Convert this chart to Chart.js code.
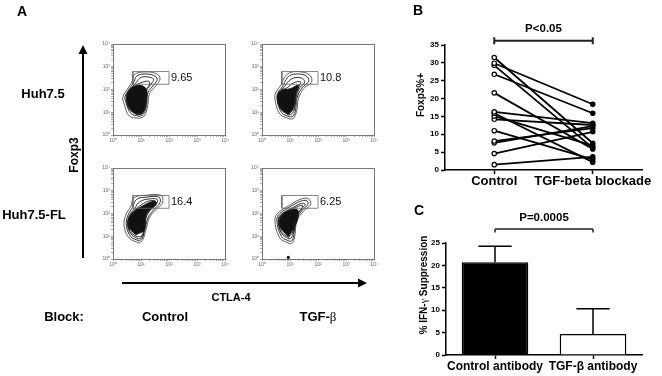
<!DOCTYPE html>
<html>
<head>
<meta charset="utf-8">
<title>Foxp3 / CTLA-4 / TGF-beta</title>
<script src="https://cdn.jsdelivr.net/npm/chart.js@4.4.1/dist/chart.umd.min.js"></script>
<style>
  body { margin: 0; background: #fff; font-family: 'Liberation Sans', Arial, sans-serif; }
  #fig { position: relative; width: 662px; height: 376px; overflow: hidden; }
  #fig canvas { position: absolute; }
  .t { position: absolute; font-weight: bold; white-space: nowrap; line-height: 1; transform: translate(-50%, -50%); }
  .v { transform: translate(-50%, -50%) rotate(-90deg); }
  .g { font-family: 'Liberation Serif', 'DejaVu Serif', serif; font-weight: normal; }
</style>
</head>
<body>
<div id="fig">
  <canvas id="fA1" width="131" height="111" style="left:99px;top:39px"></canvas>
  <canvas id="fA2" width="131" height="111" style="left:248px;top:39px"></canvas>
  <canvas id="fA3" width="131" height="111" style="left:99px;top:163px"></canvas>
  <canvas id="fA4" width="131" height="111" style="left:248px;top:163px"></canvas>
  <canvas id="cB" width="252" height="175" style="left:410px;top:20px"></canvas>
  <canvas id="cC" width="252" height="178" style="left:410px;top:198px"></canvas>

  <svg width="662" height="376" style="position:absolute;left:0;top:0">
    <line x1="83" y1="52" x2="83" y2="258" stroke="#000" stroke-width="2"/>
    <polygon points="78.5,54 87.5,54 83,45" fill="#000"/>
    <line x1="122" y1="283" x2="360" y2="283" stroke="#000" stroke-width="2"/>
    <polygon points="358,278.5 358,287.5 367,283" fill="#000"/>
  </svg>

  <div class="t" style="left:22px;top:11px;font-size:14px">A</div>
  <div class="t" style="left:418px;top:10px;font-size:14px">B</div>
  <div class="t" style="left:419px;top:210px;font-size:14px">C</div>
  <div class="t" style="left:43px;top:93px;font-size:13px">Huh7.5</div>
  <div class="t" style="left:34px;top:214px;font-size:13px">Huh7.5-FL</div>
  <div class="t v" style="left:74px;top:155px;font-size:12px">Foxp3</div>
  <div class="t" style="left:231px;top:297px;font-size:11px">CTLA-4</div>
  <div class="t" style="left:64px;top:316px;font-size:13px">Block:</div>
  <div class="t" style="left:165px;top:316px;font-size:13px">Control</div>
  <div class="t" style="left:318px;top:316px;font-size:13px">TGF-<span class="g">β</span></div>
  <div class="t v" style="left:421px;top:95px;font-size:10px">Foxp3%+</div>
  <div class="t v" style="left:424px;top:285px;font-size:10px">% IFN-<span class="g">γ</span> Suppression</div>
</div>

<script>
Chart.defaults.font.family = "'Liberation Sans', Arial, sans-serif"
Chart.defaults.color = '#000'
Chart.defaults.animation = false
Chart.defaults.plugins.legend.display = false
Chart.defaults.plugins.tooltip.enabled = false

// ---- panel A : contour plots, rings are [log10 CTLA-4, log10 Foxp3]
const flowDecades = [1, 10, 100, 1000, 10000]
const flowTickLabels = ['10\u2070', '10\u00b9', '10\u00b2', '10\u00b3', '10\u2074']
const flowMinor = [1, 2, 3, 4, 5, 6, 7, 8, 9]
const gateBox = [[0.71, 2.23], [2.0, 2.79]]
const gateLabels = ['9.65', '10.8', '16.4', '6.25']

const outer1 = [[0.94,0.73],[0.58,0.84],[0.40,1.36],[0.35,1.66],[0.52,2.03],[0.70,2.40],[0.76,2.65],[1.06,2.77],[1.54,2.70],[1.68,2.47],[1.54,2.18],[1.30,1.81],[1.24,1.29],[1.12,0.84]]
const midA1 = [[0.93,0.82],[0.64,0.95],[0.47,1.40],[0.43,1.68],[0.58,2.02],[0.76,2.36],[0.84,2.58],[1.08,2.68],[1.45,2.62],[1.58,2.45],[1.45,2.20],[1.24,1.84],[1.20,1.30],[1.08,0.90]]
const midB1 = [[0.90,0.88],[0.62,1.08],[0.48,1.50],[0.50,1.80],[0.66,2.08],[0.84,2.32],[0.98,2.52],[1.25,2.55],[1.45,2.45],[1.36,2.24],[1.20,1.96],[1.18,1.40],[1.06,0.96]]
const midC1 = [[0.86,0.90],[0.60,1.15],[0.49,1.55],[0.54,1.88],[0.76,2.14],[1.00,2.30],[1.28,2.36],[1.30,2.20],[1.19,1.98],[1.18,1.42],[1.06,0.97]]
const core1 = [[0.82,0.92],[0.58,1.21],[0.50,1.59],[0.58,1.96],[0.88,2.18],[1.18,2.03],[1.18,1.44],[1.06,0.99]]

const outer2 = [[1.00,0.70],[0.64,0.92],[0.46,1.59],[0.50,1.88],[0.67,2.18],[0.79,2.50],[1.00,2.74],[1.42,2.77],[1.71,2.62],[1.77,2.33],[1.48,2.03],[1.30,1.59],[1.24,1.07],[1.12,0.73]]
const midA2 = [[0.98,0.80],[0.70,0.98],[0.54,1.58],[0.57,1.86],[0.74,2.14],[0.86,2.44],[1.04,2.64],[1.40,2.67],[1.62,2.55],[1.66,2.34],[1.42,2.06],[1.25,1.62],[1.20,1.10],[1.10,0.82]]
const midB2 = [[0.96,0.88],[0.70,1.10],[0.56,1.62],[0.62,1.90],[0.80,2.12],[0.96,2.38],[1.18,2.52],[1.45,2.48],[1.52,2.30],[1.35,2.08],[1.22,1.66],[1.16,1.14],[1.06,0.92]]
const midC2 = [[0.95,0.90],[0.67,1.15],[0.55,1.64],[0.66,1.93],[0.90,2.08],[1.14,2.30],[1.38,2.34],[1.32,2.14],[1.21,1.72],[1.14,1.18]]
const core2 = [[0.94,0.92],[0.64,1.21],[0.55,1.66],[0.70,1.96],[1.00,2.03],[1.30,2.18],[1.20,1.81],[1.12,1.21]]

const outer3 = [[0.94,0.70],[0.58,0.92],[0.40,1.44],[0.44,1.88],[0.64,2.33],[0.76,2.70],[1.18,2.80],[1.71,2.80],[1.77,2.47],[1.54,2.18],[1.30,1.81],[1.18,1.29],[1.06,0.84]]
const midA3 = [[0.92,0.80],[0.64,0.98],[0.48,1.46],[0.52,1.88],[0.70,2.28],[0.84,2.62],[1.20,2.72],[1.64,2.72],[1.68,2.48],[1.48,2.20],[1.26,1.84],[1.14,1.32],[1.04,0.90]]
const midB3 = [[0.90,0.88],[0.64,1.10],[0.52,1.52],[0.58,1.90],[0.78,2.24],[0.96,2.52],[1.30,2.64],[1.58,2.62],[1.56,2.44],[1.38,2.22],[1.20,1.88],[1.12,1.36],[1.02,0.96]]
const midC3 = [[0.86,0.98],[0.60,1.22],[0.54,1.62],[0.64,1.96],[0.90,2.28],[1.30,2.56],[1.54,2.52],[1.44,2.34],[1.19,1.92],[1.12,1.32],[1.02,1.02]]
const core3 = [[0.82,1.07],[0.58,1.36],[0.56,1.73],[0.70,2.03],[1.06,2.33],[1.48,2.55],[1.54,2.40],[1.18,1.96],[1.12,1.29]]

const outer4 = [[1.00,0.67],[0.64,0.92],[0.46,1.73],[0.58,2.03],[0.94,2.33],[1.36,2.62],[1.65,2.65],[1.74,2.40],[1.48,2.10],[1.24,1.66],[1.18,1.07],[1.10,0.73]]
const midA4 = [[0.98,0.78],[0.70,0.98],[0.53,1.72],[0.64,2.00],[0.98,2.28],[1.38,2.54],[1.60,2.56],[1.64,2.40],[1.42,2.12],[1.20,1.68],[1.14,1.10],[1.08,0.82]]
const midB4 = [[0.96,0.88],[0.70,1.12],[0.58,1.72],[0.70,1.98],[1.04,2.22],[1.40,2.44],[1.54,2.40],[1.36,2.14],[1.18,1.72],[1.12,1.16],[1.04,0.92]]
const midC4 = [[0.95,0.94],[0.68,1.22],[0.60,1.72],[0.76,2.01],[1.12,2.22],[1.44,2.36],[1.42,2.20],[1.24,1.92],[1.15,1.30]]
const core4 = [[0.94,0.99],[0.67,1.36],[0.62,1.73],[0.82,2.03],[1.24,2.18],[1.30,1.96],[1.18,1.44]]
const blip4 = [[0.94,0.07]]

// ---- panel B : paired Foxp3%+ values
const bLabels = ['Control', 'TGF-beta blockade']
const bControl = [31.5, 29.9, 29.3, 26.8, 21.6, 16.3, 15.9, 15.1, 14.2, 11.0, 8.1, 7.6, 4.6, 1.5]
const bBlockade = [7.5, 18.4, 6.2, 15.9, 5.9, 13.1, 2.2, 6.8, 12.6, 3.0, 11.7, 12.3, 10.7, 3.7]
const bTicks = [0, 5, 10, 15, 20, 25, 30, 35]
const bBracket = 36.2

// ---- panel C : % IFN-gamma suppression
const cLabels = ['Control antibody', 'TGF-\u03b2 antibody']
const cMeans = [20.7, 4.7]
const cErrors = [3.6, 5.6]
const cTicks = [0, 5, 10, 15, 20, 25]
const cBracket = 28.1

const toPts = ring => ring.concat([ring[0]]).map(p => ({ x: 10 ** p[0], y: 10 ** p[1] }))

const flowTickValues = []
for (const d of flowDecades.slice(0, 4))
  for (const m of flowMinor) flowTickValues.push(d * m)
flowTickValues.push(flowDecades[4])

const zeroPad = s => { s.paddingLeft = s.paddingRight = s.paddingTop = s.paddingBottom = 0 }

const flowAxis = isX => ({
  type: 'logarithmic', min: 1, max: 10000,
  afterBuildTicks: s => { s.ticks = flowTickValues.map(v => ({ value: v })) },
  afterFit: s => { if (isX) s.height = 15; else s.width = 14; zeroPad(s) },
  grid: { drawOnChartArea: false, tickLength: 2, tickColor: '#777', tickWidth: 0.6 },
  border: { color: '#777', width: 1 },
  ticks: {
    autoSkip: false, maxRotation: 0, padding: 1, color: '#666', font: { size: 5 },
    callback: v => { const i = flowDecades.indexOf(v); return i < 0 ? '' : flowTickLabels[i] }
  }
})

const flowBox = label => ({
  id: 'flowBox',
  afterDraw(chart) {
    const { ctx, chartArea: a, scales: { x, y } } = chart
    ctx.save()
    ctx.strokeStyle = '#777'
    ctx.lineWidth = 1
    ctx.strokeRect(a.left + 0.5, a.top + 0.5, a.width, a.height)
    ctx.fillStyle = '#111'
    ctx.font = "11px 'Liberation Sans', Arial, sans-serif"
    ctx.textBaseline = 'middle'
    const gy = (y.getPixelForValue(10 ** gateBox[0][1]) + y.getPixelForValue(10 ** gateBox[1][1])) / 2
    ctx.fillText(label, x.getPixelForValue(10 ** gateBox[1][0]) + 2, gy)
    ctx.restore()
  }
})

function flowPlot(id, rings, core, label, extra) {
  const g = gateBox
  const gate = {
    data: toPts([[g[0][0], g[0][1]], [g[1][0], g[0][1]], [g[1][0], g[1][1]], [g[0][0], g[1][1]]]),
    showLine: true, tension: 0, borderColor: '#666', borderWidth: 0.8, pointRadius: 0
  }
  const ringSets = rings.map((r, i) => ({
    data: toPts(r), showLine: true, tension: 0.4, borderColor: '#1a1a1a',
    borderWidth: i === 0 ? 0.7 : 0.9, pointRadius: 0
  }))
  const coreSet = {
    data: toPts(core), showLine: true, tension: 0.4, borderColor: '#111', borderWidth: 1,
    backgroundColor: '#111', fill: 'shape', pointRadius: 0
  }
  const sets = [gate, ...ringSets, coreSet]
  if (extra)
    sets.push({ data: extra.map(p => ({ x: 10 ** p[0], y: 10 ** p[1] })), pointRadius: 1.6, backgroundColor: '#111', borderWidth: 0, clip: false })

  new Chart(document.getElementById(id), {
    type: 'scatter',
    data: { datasets: sets },
    options: {
      responsive: false,
      layout: { padding: { top: 5, right: 5, left: 0, bottom: 0 } },
      scales: { x: flowAxis(true), y: flowAxis(false) }
    },
    plugins: [flowBox(label)]
  })
}

flowPlot('fA1', [outer1, midA1, midB1, midC1], core1, gateLabels[0])
flowPlot('fA2', [outer2, midA2, midB2, midC2], core2, gateLabels[1])
flowPlot('fA3', [outer3, midA3, midB3, midC3], core3, gateLabels[2])
flowPlot('fA4', [outer4, midA4, midB4, midC4], core4, gateLabels[3], blip4)

// significance bracket between the two categories
const bracket = (text, value, both, lw) => ({
  id: 'bracket',
  afterDraw(chart) {
    const { ctx, scales: { x, y } } = chart
    const x0 = x.getPixelForValue(0), x1 = x.getPixelForValue(1), yy = y.getPixelForValue(value)
    ctx.save()
    ctx.strokeStyle = '#222'
    ctx.lineWidth = lw
    ctx.beginPath()
    ctx.moveTo(x0, yy); ctx.lineTo(x1, yy)
    for (const xx of [x0, x1]) {
      ctx.moveTo(xx, both ? yy - 3.5 : yy); ctx.lineTo(xx, yy + 3.5)
    }
    ctx.stroke()
    ctx.fillStyle = '#000'
    ctx.font = "bold 11.5px 'Liberation Sans', Arial, sans-serif"
    ctx.textAlign = 'center'
    ctx.textBaseline = 'middle'
    ctx.fillText(text, (x0 + x1) / 2, yy - 11.5)
    ctx.restore()
  }
})

const axisLine = { color: '#000', width: 1.5 }
const tickGrid = { drawOnChartArea: false, offset: false, tickLength: 4, tickWidth: 1.5, tickColor: '#000' }

new Chart(document.getElementById('cB'), {
  type: 'line',
  data: {
    labels: bLabels,
    datasets: bControl.map((c, i) => ({
      data: [c, bBlockade[i]],
      borderColor: '#000', borderWidth: 1.8,
      pointRadius: 2.2, pointBorderWidth: 1.2, pointBorderColor: '#000',
      pointBackgroundColor: ['#fff', '#000']
    }))
  },
  options: {
    responsive: false,
    layout: { padding: { top: 25, right: 20, left: 0, bottom: 0 } },
    scales: {
      x: {
        offset: true,
        afterFit: s => { s.height = 25; zeroPad(s) },
        grid: tickGrid, border: axisLine,
        ticks: { autoSkip: false, padding: 0, maxRotation: 0, font: { size: 13, weight: 'bold' } }
      },
      y: {
        min: 0, max: 35,
        afterBuildTicks: s => { s.ticks = bTicks.map(v => ({ value: v })) },
        afterFit: s => { s.width = 35; zeroPad(s) },
        grid: tickGrid, border: axisLine,
        ticks: { padding: 2, font: { size: 8, weight: 'bold' } }
      }
    }
  },
  plugins: [bracket('P<0.05', bBracket, true, 2)]
})

const errorBars = {
  id: 'errorBars',
  afterDatasetsDraw(chart) {
    const { ctx, scales: { y } } = chart
    ctx.save()
    ctx.strokeStyle = '#000'
    ctx.lineWidth = 1.5
    chart.getDatasetMeta(0).data.forEach((bar, i) => {
      const top = y.getPixelForValue(cMeans[i] + cErrors[i])
      const half = bar.width * 0.25
      ctx.beginPath()
      ctx.moveTo(bar.x, bar.y); ctx.lineTo(bar.x, top)
      ctx.moveTo(bar.x - half, top); ctx.lineTo(bar.x + half, top)
      ctx.stroke()
    })
    ctx.restore()
  }
}

new Chart(document.getElementById('cC'), {
  type: 'bar',
  data: {
    labels: cLabels,
    datasets: [{
      data: cMeans,
      backgroundColor: ['#000', '#fff'], borderColor: '#000', borderWidth: 1.5,
      barPercentage: 0.68, categoryPercentage: 1
    }]
  },
  options: {
    responsive: false,
    layout: { padding: { top: 45, right: 20, left: 0, bottom: 0 } },
    scales: {
      x: {
        afterFit: s => { s.height = 21; zeroPad(s) },
        grid: tickGrid, border: axisLine,
        ticks: { autoSkip: false, padding: 0, maxRotation: 0, font: { size: 12, weight: 'bold' } }
      },
      y: {
        min: 0, max: 25,
        afterBuildTicks: s => { s.ticks = cTicks.map(v => ({ value: v })) },
        afterFit: s => { s.width = 36; zeroPad(s) },
        grid: tickGrid, border: axisLine,
        ticks: { padding: 2, font: { size: 8, weight: 'bold' } }
      }
    }
  },
  plugins: [errorBars, bracket('P=0.0005', cBracket, false, 1.5)]
})
</script>
</body>
</html>
